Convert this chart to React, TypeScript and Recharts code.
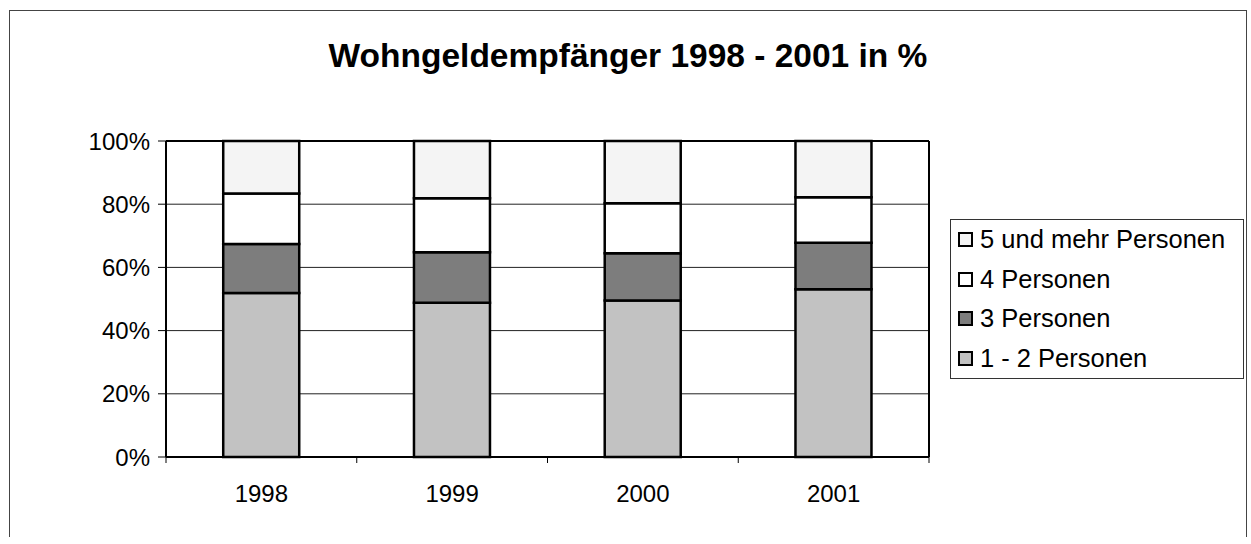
import { BarChart, Bar, XAxis, YAxis, CartesianGrid, Legend } from 'recharts'

const years = ['1998', '1999', '2000', '2001']
const pers12 = [51.9, 48.8, 49.5, 53.1]
const pers3 = [15.5, 16.0, 15.0, 14.7]
const pers4 = [16.0, 17.1, 15.8, 14.4]
const pers5 = [16.6, 18.1, 19.7, 17.8]
const yTicks = [0, 0.2, 0.4, 0.6, 0.8, 1]

const series = [
  { key: 'p12', label: '1 - 2 Personen', color: '#c2c2c2' },
  { key: 'p3', label: '3 Personen', color: '#7d7d7d' },
  { key: 'p4', label: '4 Personen', color: '#ffffff' },
  { key: 'p5', label: '5 und mehr Personen', color: '#f4f4f4' },
]

const data = years.map((year, i) => ({
  year,
  p12: pers12[i],
  p3: pers3[i],
  p4: pers4[i],
  p5: pers5[i],
}))

const FONT = '"Liberation Sans", Arial, sans-serif'
const CHART_W = 1236
const CHART_H = 526
const MARGIN = { top: 130, right: 317, bottom: 0, left: 0 }
const Y_W = 156
const X_H = 80
const TICK = 6
const GAP = 22
const HALF_BAND = (CHART_W - MARGIN.left - MARGIN.right - Y_W) / years.length / 2

// x ticks sit between the categories (excel style), labels in the middle
function YearTick(props: any) {
  const { x, y, payload } = props
  const axisY = y - TICK - GAP
  const last = payload.index === years.length - 1
  return (
    <g>
      <line x1={x - HALF_BAND} x2={x - HALF_BAND} y1={axisY} y2={axisY + TICK} stroke='#000' />
      {last && (
        <line x1={x + HALF_BAND} x2={x + HALF_BAND} y1={axisY} y2={axisY + TICK} stroke='#000' />
      )}
      <text x={x} y={y} dy='0.71em' textAnchor='middle' fontSize={24} fontFamily={FONT} fill='#000'>
        {payload.value}
      </text>
    </g>
  )
}

function LegendBox() {
  return (
    <div
      style={{
        width: 292,
        height: 158,
        border: '1.5px solid #333',
        background: '#fff',
        fontFamily: FONT,
        fontSize: 25.5,
        color: '#000',
      }}
    >
      {[...series].reverse().map((s) => (
        <div key={s.key} style={{ height: 39.5, display: 'flex', alignItems: 'center', paddingLeft: 7 }}>
          <span
            style={{
              width: 15,
              height: 15,
              boxSizing: 'border-box',
              border: '2px solid #000',
              background: s.color,
              marginRight: 7,
              display: 'inline-block',
            }}
          />
          <span>{s.label}</span>
        </div>
      ))}
    </div>
  )
}

export default function App() {
  return (
    <div
      style={{
        position: 'absolute',
        left: 9,
        top: 10,
        width: CHART_W,
        height: CHART_H,
        borderLeft: '1px solid #444',
        borderTop: '1px solid #444',
        borderRight: '1px solid #444',
        background: '#fff',
      }}
    >
      <div
        style={{
          position: 'absolute',
          left: 0,
          top: 28,
          width: CHART_W,
          textAlign: 'center',
          fontFamily: FONT,
          fontWeight: 'bold',
          fontSize: 33.5,
          lineHeight: '33.5px',
          color: '#000',
        }}
      >
        Wohngeldempfänger 1998 - 2001 in %
      </div>
      <BarChart
        width={CHART_W}
        height={CHART_H}
        data={data}
        margin={MARGIN}
        stackOffset='expand'
        barCategoryGap='30%'
      >
        <CartesianGrid vertical={false} stroke='#222' />
        <CartesianGrid
          stroke='#000'
          strokeWidth={2}
          horizontalCoordinatesGenerator={({ offset }: any) => [offset.top]}
          verticalCoordinatesGenerator={({ offset }: any) => [offset.left + offset.width]}
        />
        <XAxis
          dataKey='year'
          height={X_H}
          tickLine={false}
          tickSize={TICK}
          tickMargin={GAP}
          axisLine={{ stroke: '#000', strokeWidth: 2 }}
          tick={<YearTick />}
        />
        <YAxis
          width={Y_W}
          domain={[0, 1]}
          ticks={yTicks}
          tickFormatter={(v: number) => `${Math.round(v * 100)}%`}
          tickSize={8}
          tickMargin={8}
          axisLine={{ stroke: '#000', strokeWidth: 2 }}
          tickLine={{ stroke: '#000' }}
          tick={{ fill: '#000', fontSize: 24, fontFamily: FONT }}
        />
        <Legend
          layout='vertical'
          align='center'
          verticalAlign='middle'
          wrapperStyle={{ left: 940, top: 208, width: 'auto' }}
          content={() => <LegendBox />}
        />
        {series.map((s) => (
          <Bar
            key={s.key}
            dataKey={s.key}
            name={s.label}
            stackId='a'
            fill={s.color}
            stroke='#000'
            strokeWidth={2.5}
            isAnimationActive={false}
          />
        ))}
      </BarChart>
    </div>
  )
}
